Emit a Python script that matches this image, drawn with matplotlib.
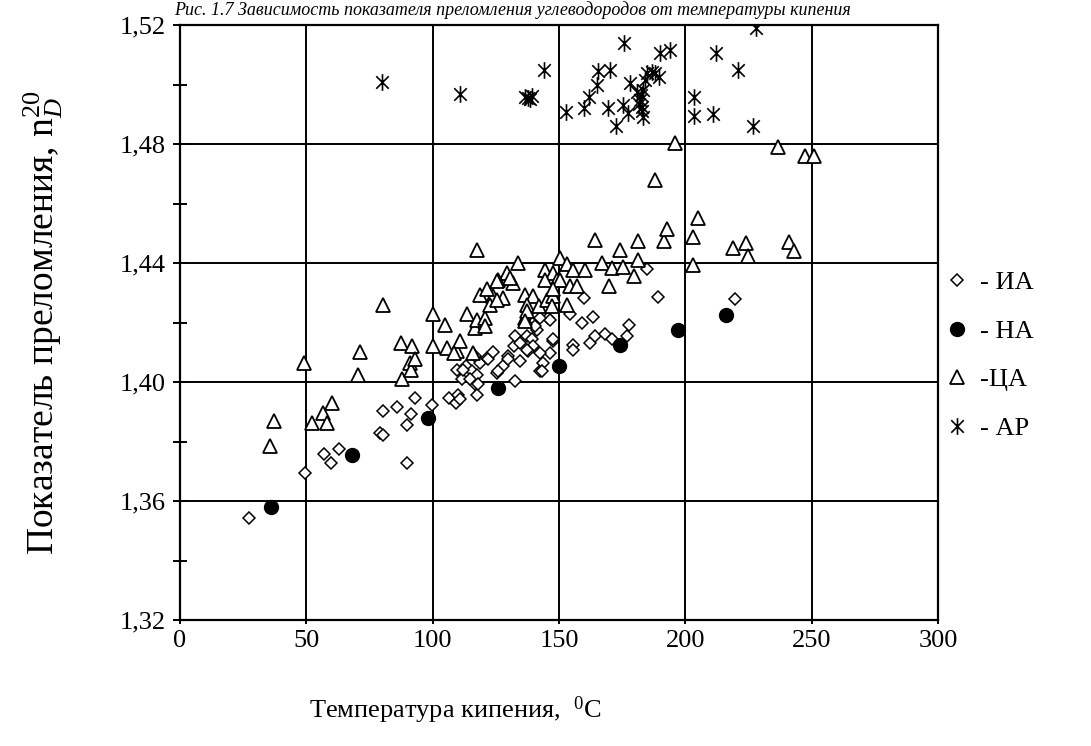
import matplotlib
matplotlib.use("Agg")
import matplotlib.pyplot as plt
from matplotlib.path import Path
from matplotlib.ticker import MultipleLocator, FixedLocator
import numpy as np

plt.rcParams['font.family'] = ['Liberation Serif', 'DejaVu Serif']
plt.rcParams['mathtext.fontset'] = 'custom'
plt.rcParams['mathtext.rm'] = 'Liberation Serif'
plt.rcParams['mathtext.it'] = 'Liberation Serif:italic'

# ИА - isoalkanes (open diamonds)
ia_t = [27.3, 49.5, 57.1, 59.8, 63.1, 80.5, 79.2, 80.5, 85.9, 89.9, 89.9, 91.6, 93.2,
        99.8, 106.4, 109.3, 109.9, 109.5, 111.5, 113.1, 115.5, 116.8, 117.5, 116.8,
        118.8, 121.4, 117.5, 118.1, 125.4, 128.0, 130.0, 132.0, 132.6, 134.6, 137.2,
        139.2, 139.8, 141.2, 137.9, 134.6, 132.6, 142.5, 143.8, 145.8, 139.8, 140.5,
        146.5, 147.8, 159.7, 154.4, 146.5, 159.0, 163.6, 162.3, 164.3, 168.3, 170.9,
        176.8, 177.9, 155.7, 155.7, 147.8, 184.8, 189.0, 219.7, 110.9, 114.8, 112.2,
        122.0, 126.0, 130.0, 137.2, 140.5, 142.5, 143.2, 141.2, 142.5, 124.0]
ia_n = [1.3544, 1.3694, 1.3757, 1.3727, 1.3774, 1.3902, 1.3830, 1.3821, 1.3917, 1.3854,
        1.3728, 1.3894, 1.3945, 1.3922, 1.3945, 1.3928, 1.3957, 1.4039, 1.4009, 1.4053,
        1.4036, 1.3992, 1.3956, 1.4087, 1.4065, 1.4081, 1.4025, 1.3992, 1.4031, 1.4053,
        1.4087, 1.4120, 1.4154, 1.4132, 1.4154, 1.4143, 1.4120, 1.4176, 1.4104, 1.4070,
        1.4003, 1.4037, 1.4065, 1.4216, 1.4219, 1.4205, 1.4098, 1.4137, 1.4283, 1.4227,
        1.4210, 1.4199, 1.4219, 1.4132, 1.4156, 1.4160, 1.4146, 1.4156, 1.4193, 1.4126,
        1.4109, 1.4143, 1.4380, 1.4286, 1.4280, 1.3942, 1.4009, 1.4042, 1.4078, 1.4037,
        1.4076, 1.4109, 1.4187, 1.4098, 1.4037, 1.4221, 1.4216, 1.4100]

# НА - n-alkanes (filled circles)
na_t = [36, 68, 98, 126, 150, 174, 197, 216]
na_n = [1.3580, 1.3755, 1.3880, 1.3980, 1.4055, 1.4125, 1.4175, 1.4225]

# ЦА - cycloalkanes (open triangles)
ca_t = [35.6, 37.2, 49.1, 52.1, 56.7, 58.3, 60.3, 70.6, 71.3, 80.5, 87.5, 87.8, 91.7,
        91.1, 91.5, 93.0, 100.3, 100.3, 104.9, 105.6, 109.5, 110.9, 113.7, 116.8, 116.1,
        117.5, 133.6, 129.3, 126.0, 131.6, 118.8, 124.0, 128.0, 121.4, 117.5, 120.7,
        120.7, 122.7, 125.4, 136.6, 139.8, 137.2, 141.9, 145.2, 147.8, 147.2, 144.5,
        147.8, 149.1, 136.6, 137.2, 108.6, 164.1, 181.4, 191.7, 192.7, 205.2, 202.9,
        202.9, 174.2, 181.4, 166.9, 170.9, 175.5, 179.5, 169.6, 219.0, 224.1, 224.7,
        188.0, 195.8, 150.4, 153.1, 155.7, 160.3, 150.4, 144.5, 147.8, 154.4, 157.0,
        130.6, 125.4, 153.1, 136.6, 241.0, 243.0, 236.5, 247.5, 251.0]
ca_n = [1.3785, 1.3869, 1.4065, 1.3863, 1.3897, 1.3863, 1.3930, 1.4022, 1.4100, 1.4260,
        1.4132, 1.4009, 1.4120, 1.4065, 1.4042, 1.4076, 1.4227, 1.4120, 1.4193, 1.4115,
        1.4104, 1.4137, 1.4227, 1.4182, 1.4098, 1.4445, 1.4400, 1.4367, 1.4344, 1.4333,
        1.4293, 1.4288, 1.4283, 1.4311, 1.4210, 1.4216, 1.4187, 1.4260, 1.4277, 1.4293,
        1.4288, 1.4260, 1.4254, 1.4277, 1.4288, 1.4254, 1.4378, 1.4367, 1.4344, 1.4216,
        1.4238, 1.4098, 1.4477, 1.4475, 1.4473, 1.4514, 1.4551, 1.4488, 1.4392, 1.4443,
        1.4411, 1.4400, 1.4383, 1.4387, 1.4355, 1.4322, 1.4450, 1.4467, 1.4422, 1.4680,
        1.4803, 1.4417, 1.4395, 1.4378, 1.4378, 1.4344, 1.4344, 1.4311, 1.4322, 1.4322,
        1.4350, 1.4339, 1.4260, 1.4204, 1.4470, 1.4440, 1.4790, 1.4760, 1.4760]

# АР - aromatics (asterisks)
ar_t = [80.1, 110.9, 137.9, 136.6, 139.3, 138.5, 144.2, 152.8, 159.7, 161.7, 165.0,
        165.6, 170.0, 175.8, 169.3, 172.6, 175.5, 177.5, 178.2, 182.1, 182.8, 183.4,
        183.4, 184.1, 184.8, 186.7, 188.0, 189.4, 190.0, 194.0, 203.6, 203.6, 210.9,
        212.2, 221.0, 226.7, 228.0, 181.5, 182.5, 183.0, 181.0]
ar_n = [1.5008, 1.4967, 1.4956, 1.4958, 1.4962, 1.4952, 1.5049, 1.4906, 1.4920, 1.4959,
        1.4999, 1.5047, 1.5049, 1.5139, 1.4920, 1.4861, 1.4932, 1.4904, 1.5004, 1.4948,
        1.4926, 1.4892, 1.4982, 1.5015, 1.5038, 1.5043, 1.5038, 1.5026, 1.5105, 1.5116,
        1.4959, 1.4895, 1.4900, 1.5105, 1.5049, 1.4861, 1.5191, 1.4935, 1.4965, 1.4910,
        1.4975]

labels = ['- ИА', '- НА', '-ЦА', '- АР']

# asterisk marker: vertical bar + X
star = Path([(0, -1), (0, 1), (-0.75, -0.75), (0.75, 0.75), (-0.75, 0.75), (0.75, -0.75)],
            [Path.MOVETO, Path.LINETO, Path.MOVETO, Path.LINETO, Path.MOVETO, Path.LINETO])

fig = plt.figure(figsize=(10.91, 7.46), dpi=100)
ax = fig.add_axes([180 / 1091, 1 - 620 / 746, 758 / 1091, 595 / 746])

ax.grid(True, color='black', linewidth=1.4, zorder=0)
ax.set_axisbelow(True)

h_ia, = ax.plot(ia_t, ia_n, linestyle='none', marker='D', ms=6.5, mfc='white',
                mec='black', mew=1.1, zorder=3)
h_na, = ax.plot(na_t, na_n, linestyle='none', marker='o', ms=10, mfc='black',
                mec='black', zorder=4)
h_ca, = ax.plot(ca_t, ca_n, linestyle='none', marker='^', ms=10, mfc='white',
                mec='black', mew=1.3, zorder=3)
h_ar, = ax.plot(ar_t, ar_n, linestyle='none', marker=star, ms=12, mfc='none',
                mec='black', mew=1.2, zorder=3)

ax.set_xlim(0, 300)
ax.set_ylim(1.32, 1.52)
ax.xaxis.set_major_locator(MultipleLocator(50))
ax.yaxis.set_major_locator(FixedLocator([1.32, 1.36, 1.40, 1.44, 1.48, 1.52]))
ax.yaxis.set_minor_locator(FixedLocator([1.34, 1.38, 1.42, 1.46, 1.50]))
ax.set_yticklabels(['1,32', '1,36', '1,40', '1,44', '1,48', '1,52'])

ax.tick_params(axis='y', which='both', direction='inout', length=10, width=1.4,
               labelsize=19, pad=5)
ax.tick_params(axis='x', which='major', direction='out', length=3, width=1.4,
               labelsize=19, pad=4)
for s in ax.spines.values():
    s.set_linewidth(1.6)

ax.set_xlabel('Температура кипения,  $^{0}$C', fontsize=19)
ax.xaxis.set_label_coords(0.363, -0.125)
ax.set_ylabel('Показатель преломления, n$^{20}_{D}$', fontsize=27)
ax.yaxis.set_label_coords(-0.152, 0.5)

fig.legend([h_ia, h_na, h_ca, h_ar], labels, loc='upper left',
           bbox_to_anchor=(917 / 1091, 1 - 247 / 746), frameon=False,
           fontsize=19, labelspacing=0.95, handletextpad=0.3, handlelength=1.2)

# caption line above the plot
fig.text(0.47, 1 - 1 / 746, 'Рис. 1.7 Зависимость показателя преломления углеводородов от температуры кипения',
         ha='center', va='top', fontsize=13, style='italic')

fig.savefig('out.png', dpi=100)
